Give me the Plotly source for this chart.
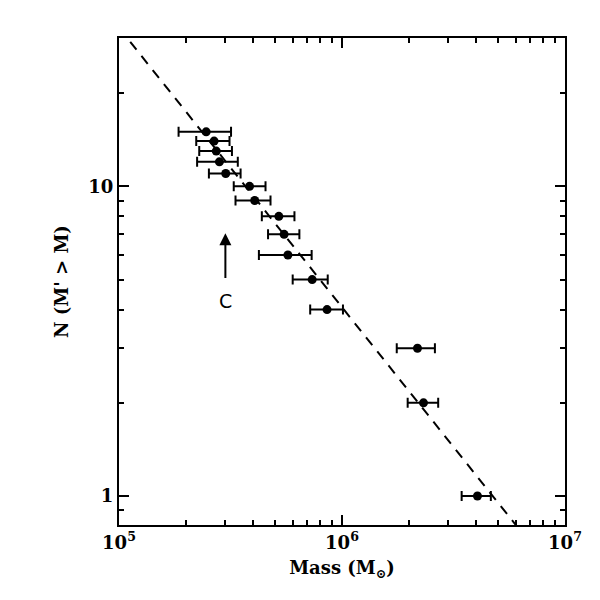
import plotly.graph_objects as go

# cumulative counts vs mass
mass = [2.46e5, 2.67e5, 2.73e5, 2.82e5, 3.01e5, 3.85e5, 4.06e5, 5.21e5,
        5.50e5, 5.72e5, 7.35e5, 8.57e5, 2.18e6, 2.32e6, 4.05e6]
mass_lo = [1.85e5, 2.22e5, 2.29e5, 2.24e5, 2.53e5, 3.27e5, 3.33e5, 4.37e5,
           4.66e5, 4.24e5, 6.01e5, 7.20e5, 1.76e6, 1.97e6, 3.44e6]
mass_hi = [3.18e5, 3.13e5, 3.21e5, 3.41e5, 3.51e5, 4.54e5, 4.78e5, 6.12e5,
           6.44e5, 7.31e5, 8.63e5, 1.01e6, 2.61e6, 2.70e6, 4.65e6]
n_cum = [15, 14, 13, 12, 11, 10, 9, 8, 7, 6, 5, 4, 3, 2, 1]

# dashed power-law line, end values
fit_mass = [1e5, 1e7]
fit_n = [32.5, 0.51]

# arrow marking "C" (log10 units for the annotation)
arrow_x = 5.4771
arrow_tip = 0.8482
arrow_tail = 0.699
label_y = 0.6284

x_major = [1e5, 1e6, 1e7]
x_major_text = ["10<sup>5</sup>", "10<sup>6</sup>", "10<sup>7</sup>"]
x_minor = [2e5, 3e5, 4e5, 5e5, 6e5, 7e5, 8e5, 9e5,
           2e6, 3e6, 4e6, 5e6, 6e6, 7e6, 8e6, 9e6]
y_major = [1, 10]
y_major_text = ["1", "10"]
y_minor = [0.9, 2, 3, 4, 5, 6, 7, 8, 9, 20, 30]

err_plus = [h - m for h, m in zip(mass_hi, mass)]
err_minus = [m - l for m, l in zip(mass, mass_lo)]

lab_font = dict(family="DejaVu Serif", size=18, color="black", weight="bold")

fig = go.Figure()
fig.add_trace(go.Scatter(
    x=fit_mass, y=fit_n, mode="lines",
    line=dict(color="black", width=2, dash="10px,8px"),
    hoverinfo="skip"
))
fig.add_trace(go.Scatter(
    x=mass, y=n_cum, mode="markers",
    marker=dict(color="black", size=9),
    error_x=dict(type="data", symmetric=False, array=err_plus,
                 arrayminus=err_minus, color="black", thickness=2, width=5)
))

fig.add_annotation(
    x=arrow_x, y=arrow_tip, ax=arrow_x, ay=arrow_tail,
    xref="x", yref="y", axref="x", ayref="y",
    text="", showarrow=True, arrowhead=2, arrowsize=1.2,
    arrowwidth=2, arrowcolor="black"
)
fig.add_annotation(
    x=arrow_x, y=label_y, xref="x", yref="y", text="C",
    showarrow=False, font=dict(size=19, color="black", family="DejaVu Sans")
)

axis_common = dict(
    type="log", showgrid=False, zeroline=False,
    showline=True, linecolor="black", linewidth=2, mirror="allticks",
    ticks="inside", ticklen=10, tickwidth=1.5, tickcolor="black",
    tickmode="array",
    tickfont=lab_font,
)

fig.update_xaxes(
    **axis_common,
    range=[5, 7],
    tickvals=x_major, ticktext=x_major_text,
    minor=dict(tickmode="array", tickvals=x_minor, ticks="inside",
               ticklen=5, tickwidth=1.5, tickcolor="black"),
    title=dict(text="Mass (M<sub>⊙</sub>)", standoff=10, font=lab_font),
)
fig.update_yaxes(
    **axis_common,
    range=[-0.0935, 1.479],
    tickvals=y_major, ticktext=y_major_text,
    minor=dict(tickmode="array", tickvals=y_minor, ticks="inside",
               ticklen=5, tickwidth=1.5, tickcolor="black"),
    title=dict(text="N (M' > M)", standoff=15, font=lab_font),
)

fig.update_layout(
    width=600, height=600,
    margin=dict(l=111, r=43, t=30, b=83),
    paper_bgcolor="white", plot_bgcolor="white",
    showlegend=False,
)

fig.write_html("out.html")
